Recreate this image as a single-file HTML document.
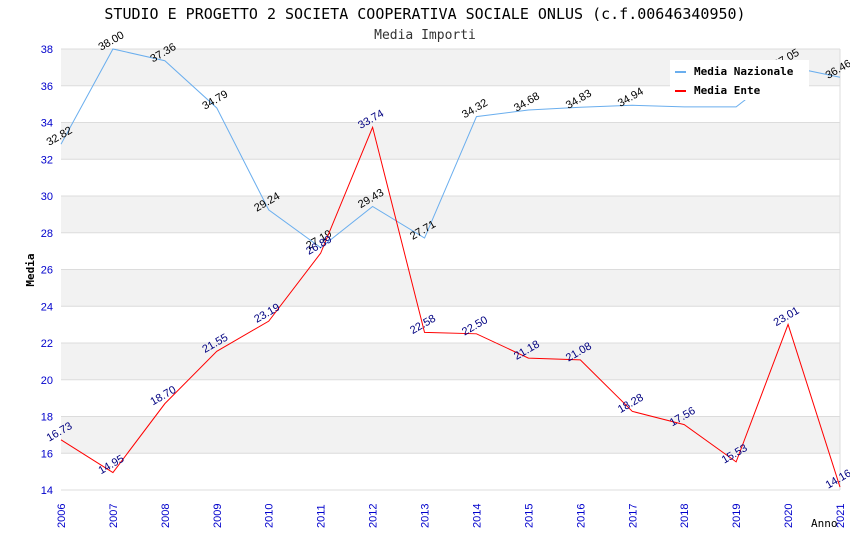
<!DOCTYPE html>
<html><head><meta charset="utf-8"><style>
body{margin:0;background:#fff;}
svg text{font-family:"DejaVu Sans Mono","Liberation Mono",monospace;}
svg text.s{font-family:"Liberation Sans","DejaVu Sans",sans-serif;}
</style></head><body>
<svg id="chart" width="850" height="550" xmlns="http://www.w3.org/2000/svg">
<text x="425" y="19" text-anchor="middle" font-size="15" fill="#000">STUDIO E PROGETTO 2 SOCIETA COOPERATIVA SOCIALE ONLUS (c.f.00646340950)</text>
<text x="425" y="39" text-anchor="middle" font-size="13" fill="#333">Media Importi</text>
<g id="bands"></g><g id="grid"></g><g id="axes"></g><g id="series"></g>
<text x="34" y="270" transform="rotate(-90 34 270)" text-anchor="middle" font-size="11" font-weight="bold">Media</text>
<text x="811" y="527" font-size="11">Anno</text>
<g>
<rect x="670" y="60" width="139" height="40" fill="#fff"/>
<rect x="675" y="71" width="11" height="2" fill="#6aaeee"/>
<text x="694" y="75" font-size="11" font-weight="bold">Media Nazionale</text>
<rect x="675" y="90" width="11" height="2" fill="#ff0000"/>
<text x="694" y="94" font-size="11" font-weight="bold">Media Ente</text>
</g>
</svg>
<script>
const years=[2006,2007,2008,2009,2010,2011,2012,2013,2014,2015,2016,2017,2018,2019,2020,2021];
const nazionale=[32.82,38.00,37.36,34.79,29.24,27.19,29.43,27.71,34.32,34.68,34.83,34.94,34.85,34.85,37.05,36.46];
const ente=[16.73,14.95,18.70,21.55,23.19,26.89,33.74,22.58,22.50,21.18,21.08,18.28,17.56,15.53,23.01,14.16];
const yTicks=[14,16,18,20,22,24,26,28,30,32,34,36,38];
const showNazLabel=[1,1,1,1,1,1,1,1,1,1,1,1,0,0,1,1];

const NS="http://www.w3.org/2000/svg";
const x0=61,x1=840,y0=490,y1=49,ymin=14,ymax=38;
const xs=i=>x0+(x1-x0)*i/(years.length-1);
const ys=v=>y0-(v-ymin)/(ymax-ymin)*(y0-y1);
function mk(tag,attrs,parent){const e=document.createElementNS(NS,tag);for(const k in attrs)e.setAttribute(k,attrs[k]);document.getElementById(parent).appendChild(e);return e;}

for(let i=0;i<yTicks.length-1;i++){
  if(i%2===1){
    const r=mk('rect',{x:x0,y:ys(yTicks[i+1]),width:x1-x0,height:ys(yTicks[i])-ys(yTicks[i+1]),fill:'#f2f2f2'},'bands');
    
    
  }
}
yTicks.forEach(v=>{
  const l=mk('line',{x1:x0,x2:x1,y1:ys(v),y2:ys(v),stroke:'#dcdcdc','stroke-width':1},'grid');
  
  
  const t=mk('text',{x:x0-8,y:ys(v)+4,'text-anchor':'end','font-size':11,fill:'#0000cc',class:'s'},'axes');
  t.textContent=v;
  
  
});
mk('line',{x1:x1,x2:x1,y1:y1,y2:y0,stroke:'#dcdcdc'},'grid');
years.forEach((yr,i)=>{
  const t=mk('text',{x:xs(i)+4,y:y0+38,transform:`rotate(-90 ${xs(i)+4} ${y0+38})`,'font-size':11,fill:'#0000cc',class:'s'},'axes');
  t.textContent=yr;
  
  
});

function series(vals,color,lblColor,name,show){
  const p=mk('polyline',{points:vals.map((v,i)=>xs(i)+','+ys(v)).join(' '),fill:'none',stroke:color,'stroke-width':1},'series');
  
  
  vals.forEach((v,i)=>{
    if(show&&!show[i])return;
    const x=xs(i),y=ys(v)-5;
    const t=mk('text',{x:x,y:y,'text-anchor':'middle','font-size':11,fill:lblColor,class:'s',transform:`rotate(-30 ${x} ${y})`},'series');
    t.textContent=v.toFixed(2);
    
    
  });
}
series(nazionale,'#6aaeee','#000','nazionale',showNazLabel);
series(ente,'#ff0000','#000080','ente',null);
</script>
</body></html>
